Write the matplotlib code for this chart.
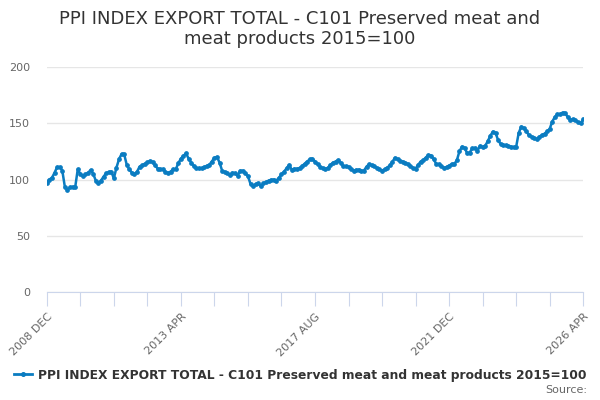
import matplotlib.pyplot as plt
from matplotlib.lines import Line2D

title = "PPI INDEX EXPORT TOTAL - C101 Preserved meat and\nmeat products 2015=100"
series_name = "PPI INDEX EXPORT TOTAL - C101 Preserved meat and meat products 2015=100"
label_ticks = ["2008 DEC", "2013 APR", "2017 AUG", "2021 DEC", "2026 APR"]

# monthly index values, 2008 DEC .. 2026 APR
values = [
    97, 100, 101.5, 106, 111, 111, 108, 93.5, 91, 93, 93.5, 93, 109, 105, 103, 104.5,
    106, 108.4, 105, 99, 96.6, 99, 102.5, 105.5, 106.5, 107, 101, 110.5, 118, 122.7, 122.5, 113,
    109, 106, 104.5, 107, 111.5, 112.5, 114, 115.3, 116.5, 115.5, 112.5, 109.7, 109, 109, 107, 105.7,
    107, 109, 109, 114.5, 118.5, 121, 123.3, 118.5, 115, 112, 110.2, 110, 110, 111, 112, 113,
    116, 119.3, 120, 115, 107.7, 106.7, 105.5, 104, 106, 105.5, 103.5, 107.8, 107.8, 105.5, 103, 96,
    94.5, 96, 96.6, 94, 96.6, 97.7, 99, 99.7, 100, 99, 101.5, 104.5, 107, 110, 113, 108.5,
    109.5, 109.5, 110, 112, 114, 116, 118, 118.5, 116, 113.5, 111.5, 109.8, 109.3, 110.3, 113, 115,
    116, 117.3, 114.7, 112, 111.7, 111.3, 109.5, 107.9, 108.5, 108.8, 107.8, 108, 111.5, 113.5, 112.6, 111.6,
    110.3, 109, 108, 109, 110.5, 112.5, 115.7, 119.3, 118, 116.7, 115.8, 115, 113.6, 111.8, 110.2, 109.7,
    113, 116, 117.3, 119.5, 121.8, 121.3, 118, 114, 113.4, 111.8, 110.2, 111, 112.3, 113.8, 113.8, 117,
    125, 129.2, 128, 123.5, 124, 127.7, 128, 125.6, 130, 128.5, 130, 134, 139, 142.5, 141.5, 135,
    131.5, 130.7, 130.3, 129.8, 129.2, 128.6, 129, 141.5, 147, 145.5, 142.8, 139.2, 138, 136.5, 136, 138,
    139.5, 140.7, 142.7, 145, 151.5, 155.5, 158, 158, 159.5, 159, 155.5, 153, 153.5, 152.6, 150.8, 149.8,
    153.5,
]
months = list(range(len(values)))

color = "#0a7cc1"
axis_color = "#ccd6eb"

fig = plt.figure(figsize=(6, 4), dpi=100)
ax = fig.add_axes([0.078, 0.27, 0.894, 0.5625])

ax.plot(months, values, color=color, lw=1.8, marker="o", ms=2.4, zorder=3)

ax.set_xlim(0, len(values) - 1)
ax.set_ylim(0, 200)
ax.set_yticks([0, 50, 100, 150, 200])
ax.grid(axis="y", color="#e6e6e6", lw=1)
ax.set_axisbelow(True)

tick_pos = list(range(0, len(values), 13))
ax.set_xticks(tick_pos)
ax.set_xticklabels([label_ticks[k // 4] if k % 4 == 0 else "" for k in range(len(tick_pos))],
                   rotation=45, ha="right", rotation_mode="anchor")
ax.tick_params(axis="x", length=10, color=axis_color, labelcolor="#666666", labelsize=8, pad=4)
ax.tick_params(axis="y", length=0, labelcolor="#666666", labelsize=8, pad=12)

for s in ["top", "right", "left"]:
    ax.spines[s].set_visible(False)
ax.spines["bottom"].set_color(axis_color)

fig.text(0.5, 0.975, title, ha="center", va="top", fontsize=13, color="#333333", linespacing=1.15)

handle = Line2D([], [], color=color, lw=2, marker="o", ms=2.6)
fig.legend([handle], [series_name], loc="center", bbox_to_anchor=(0.5, 0.0625),
           frameon=False, prop={"size": 8.8, "weight": "bold"}, handlelength=1.5,
           handletextpad=0.5, labelcolor="#333333")
fig.text(0.978, 0.025, "Source:", ha="right", va="center", fontsize=8, color="#666666")

fig.savefig("out.png", dpi=100)
